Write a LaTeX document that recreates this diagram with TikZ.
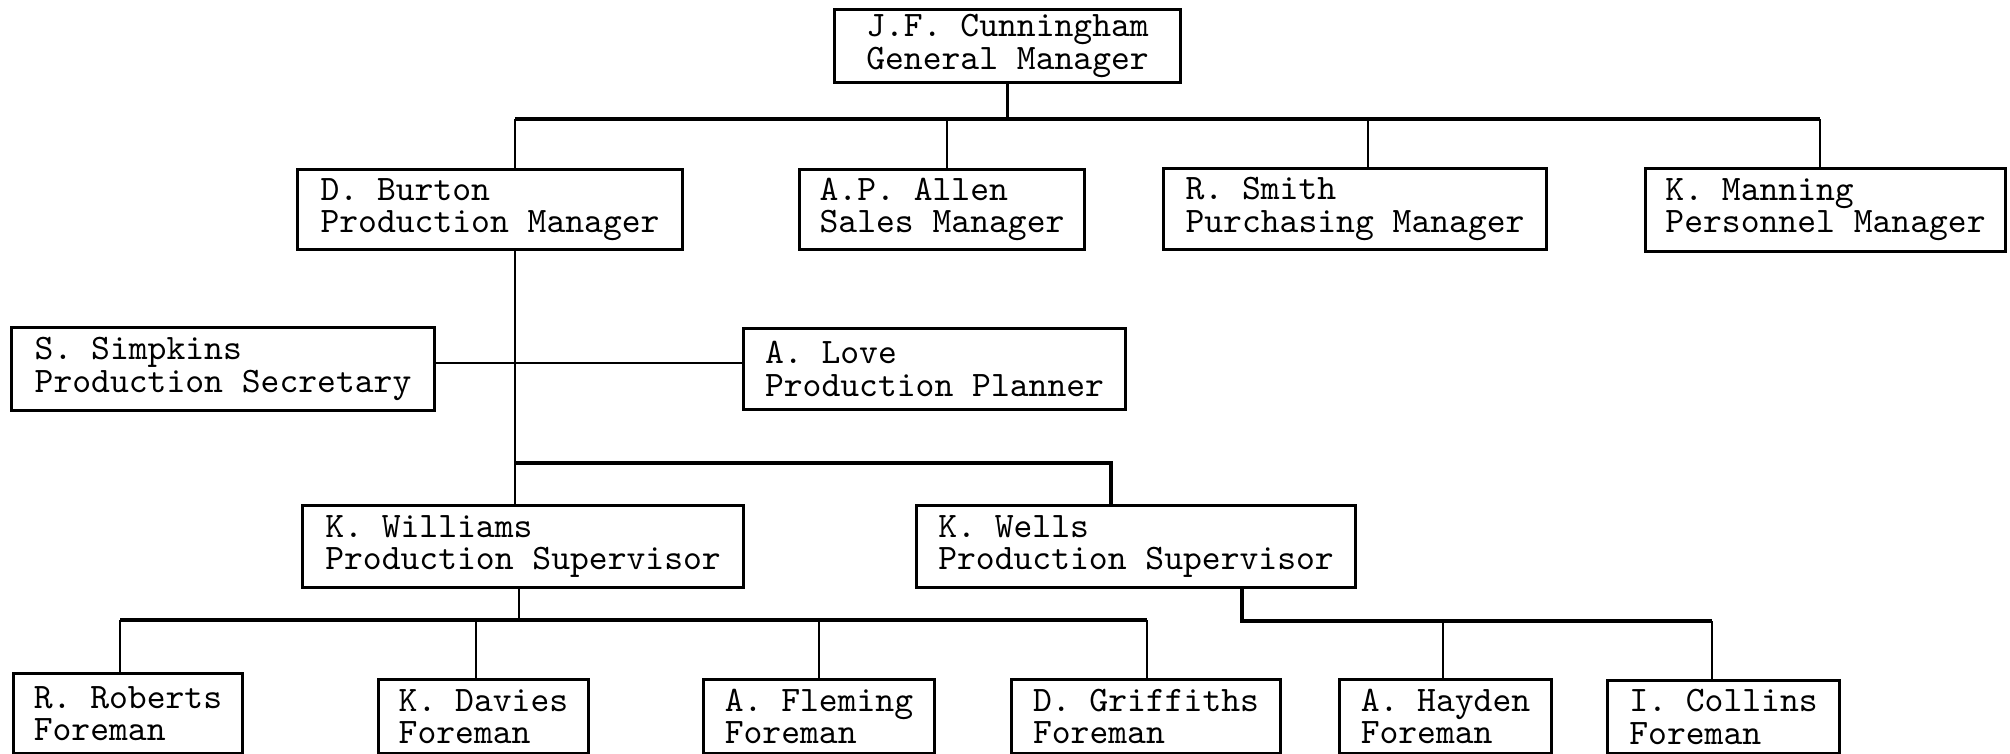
\documentclass[tikz,border=0pt]{standalone}
\usepackage{fontspec}
\usetikzlibrary{calc,positioning}

\begin{document}
\begin{tikzpicture}[
  x=0.01cm, y=-0.01cm,
  box/.style={draw, line width=0.8pt, anchor=north west, align=left, inner sep=0pt,
    font=\ttfamily\fontsize{10.2}{9.2}\selectfont},
  link/.style={line width=0.8pt},
  bus/.style={line width=1.2pt}
]
\useasboundingbox (0,0) rectangle (2010,753);

% Nodes
\node[box, minimum width=3.46cm, minimum height=0.73cm] (cunn) at (833,8) {J.F. Cunningham\\General Manager};

\node[box, minimum width=3.85cm, minimum height=0.80cm] (burton) at (296,168) {D. Burton\\Production Manager};
\node[box, minimum width=2.85cm, minimum height=0.80cm] (allen) at (798,168) {A.P. Allen\\Sales Manager};
\node[box, minimum width=3.83cm, minimum height=0.81cm] (smith) at (1162,167) {R. Smith\\Purchasing Manager};
\node[box, minimum width=3.60cm, minimum height=0.83cm] (manning) at (1644,167) {K. Manning\\Personnel Manager};

\node[box, minimum width=4.23cm, minimum height=0.83cm] (simpkins) at (10,326) {S. Simpkins\\Production Secretary};
\node[box, minimum width=3.82cm, minimum height=0.81cm] (love) at (742,327) {A. Love\\Production Planner};

\node[box, minimum width=4.41cm, minimum height=0.82cm] (williams) at (301,504) {K. Williams\\Production Supervisor};
\node[box, minimum width=4.39cm, minimum height=0.82cm] (wells) at (915,504) {K. Wells\\Production Supervisor};

\node[box, minimum width=2.29cm, minimum height=0.80cm] (roberts) at (12,672) {R. Roberts\\Foreman};
\node[box, minimum width=2.10cm, minimum height=0.74cm] (davies) at (377,678) {K. Davies\\Foreman};
\node[box, minimum width=2.31cm, minimum height=0.74cm] (fleming) at (702,678) {A. Fleming\\Foreman};
\node[box, minimum width=2.69cm, minimum height=0.74cm] (griffiths) at (1010,678) {D. Griffiths\\Foreman};
\node[box, minimum width=2.12cm, minimum height=0.74cm] (hayden) at (1338,678) {A. Hayden\\Foreman};
\node[box, minimum width=2.32cm, minimum height=0.73cm] (collins) at (1606,679) {I. Collins\\Foreman};

% Bus points
\coordinate (p1) at (515,119);
\coordinate (p2) at (947,119);
\coordinate (p3) at (1368,119);
\coordinate (p4) at (1820,119);
\coordinate (staff) at (515,363);
\coordinate (s1) at (515,463);
\coordinate (s2) at (1111,463);
\coordinate (w0) at (519,620);
\coordinate (wa) at (120,620);
\coordinate (wb) at (476,620);
\coordinate (wc) at (819,620);
\coordinate (wd) at (1147,620);
\coordinate (v0) at (1242,621);
\coordinate (vb) at (1443,621);
\coordinate (vc) at (1712,621);

% Managers
\draw[link] (cunn.south) -- (cunn.south |- p1);
\draw[bus] (p1) -- (p4);
\foreach \c/\n in {p1/burton, p2/allen, p3/smith, p4/manning}
  \draw[link] (\c) -- (\c |- \n.north);

% Production line and staff
\draw[link] (p1 |- burton.south) -- (p1 |- williams.north);
\draw[link] (simpkins.east |- staff) -- (love.west |- staff);
\draw[bus] (s1) -- (s2) -- (s2 |- wells.north);

% Foremen
\draw[link] (w0 |- williams.south) -- (w0);
\draw[bus] (wa) -- (wd);
\foreach \c/\n in {wa/roberts, wb/davies, wc/fleming, wd/griffiths}
  \draw[link] (\c) -- (\c |- \n.north);
\draw[bus] (v0 |- wells.south) -- (v0) -- (vc);
\foreach \c/\n in {vb/hayden, vc/collins}
  \draw[link] (\c) -- (\c |- \n.north);
\end{tikzpicture}
\end{document}
